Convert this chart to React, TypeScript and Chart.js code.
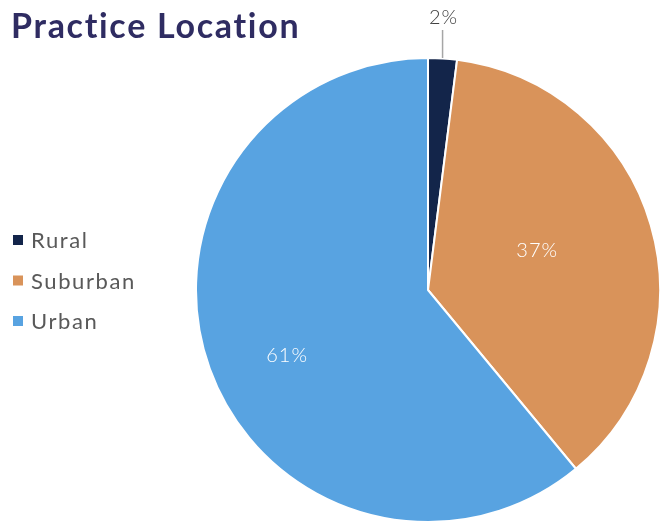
import React, { useEffect, useRef } from "react";
import { Chart, registerables } from "chart.js";

Chart.register(...registerables);

const titleText = "Practice Location";
const categories = ["Rural", "Suburban", "Urban"];
const values = [2, 37, 61];
const colors = ["#13254a", "#d9935a", "#58a3e1"];
const labelTexts = ["2%", "37%", "61%"];

const FONT = "Lato, 'Open Sans', sans-serif";

const overlayPlugin = {
  id: "overlay",
  afterDraw(chart: any) {
    const ctx = chart.ctx as any;
    ctx.save();
    // title
    ctx.fillStyle = "#2f2c62";
    ctx.font = `bold 34px ${FONT}`;
    ctx.letterSpacing = "1.7px";
    ctx.textAlign = "left";
    ctx.textBaseline = "middle";
    ctx.fillText(titleText, 11, 27);

    // legend
    ctx.font = `22px ${FONT}`;
    ctx.letterSpacing = "1.6px";
    categories.forEach((c, i) => {
      const y = 240 + i * 40.5;
      ctx.fillStyle = colors[i];
      ctx.fillRect(13, y - 5, 10, 10);
      ctx.fillStyle = "#595959";
      ctx.fillText(c, 31, y + 1);
    });

    // data labels
    const meta = chart.getDatasetMeta(0);
    ctx.textAlign = "center";
    ctx.font = `300 20px ${FONT}`;
    ctx.letterSpacing = "1px";
    meta.data.forEach((arc: any, i: number) => {
      const { x, y, startAngle, endAngle, outerRadius } = arc.getProps(
        ["x", "y", "startAngle", "endAngle", "outerRadius"],
        true
      );
      const mid = (startAngle + endAngle) / 2;
      if (i === 0) {
        const lx = x + Math.cos(mid) * outerRadius;
        ctx.strokeStyle = "#a6a6a6";
        ctx.lineWidth = 1.5;
        ctx.beginPath();
        ctx.moveTo(lx, y - outerRadius);
        ctx.lineTo(lx, y - outerRadius - 28);
        ctx.stroke();
        ctx.fillStyle = "#404040";
        ctx.fillText(labelTexts[i], lx + 1, y - outerRadius - 40);
      } else {
        const r = i === 1 ? 0.5 * outerRadius : 0.67 * outerRadius;
        const ang = i === 1 ? mid - 0.06 : mid - 0.09;
        ctx.fillStyle = "#ffffff";
        ctx.fillText(labelTexts[i], x + Math.cos(ang) * r, y + Math.sin(ang) * r);
      }
    });
    ctx.restore();
  },
};

export default function App() {
  const ref = useRef<HTMLCanvasElement | null>(null);
  useEffect(() => {
    document.body.style.margin = "0";
    const chart = new Chart(ref.current as HTMLCanvasElement, {
      type: "pie",
      data: {
        labels: categories,
        datasets: [
          {
            data: values,
            backgroundColor: colors,
            borderColor: "#ffffff",
            borderWidth: 2,
          },
        ],
      },
      options: {
        animation: false,
        responsive: false,
        layout: { padding: { left: 195, right: 7, top: 57, bottom: 0 } },
        plugins: {
          legend: { display: false },
          title: { display: false },
          tooltip: { enabled: false },
        },
      },
      plugins: [overlayPlugin],
    });
    return () => chart.destroy();
  }, []);
  return (
    <div style={{ width: 668, height: 523, background: "#fff" }}>
      <canvas ref={ref} width={668} height={523} />
    </div>
  );
}
